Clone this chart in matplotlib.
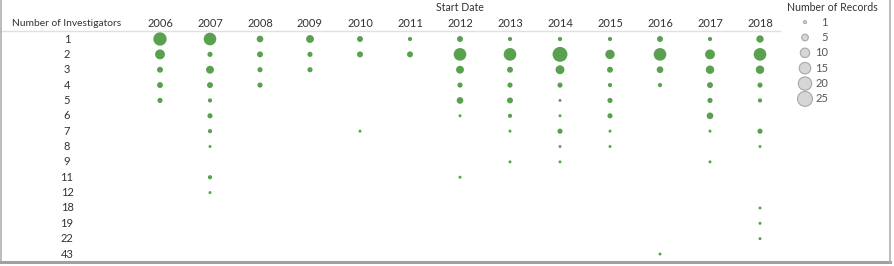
import numpy as np
import matplotlib.pyplot as plt

plt.rcParams['font.family'] = ['Lato', 'DejaVu Sans']

years = ['2006', '2007', '2008', '2009', '2010', '2011', '2012',
         '2013', '2014', '2015', '2016', '2017', '2018']
investigators = ['1', '2', '3', '4', '5', '6', '7', '8', '9',
                 '11', '12', '18', '19', '22', '43']

# number of records per (investigators, year); 0 = no mark
records = np.array([
    [20, 18, 5, 7, 4, 2, 4, 2, 2, 2, 4, 2, 6],     # 1
    [11, 3, 4, 3, 4, 4, 18, 18, 25, 10, 18, 11, 18],  # 2
    [4, 7, 3, 3, 0, 0, 7, 4, 9, 4, 5, 8, 8],       # 3
    [4, 4, 3, 0, 0, 0, 3, 3, 3, 2, 2, 4, 3],       # 4
    [3, 2, 0, 0, 0, 0, 5, 4, 1, 3, 0, 3, 2],       # 5
    [0, 3, 0, 0, 0, 0, 1, 2, 1, 3, 0, 5, 0],       # 6
    [0, 2, 0, 0, 1, 0, 0, 1, 3, 1, 0, 1, 3],       # 7
    [0, 1, 0, 0, 0, 0, 0, 0, 1, 1, 0, 0, 1],       # 8
    [0, 0, 0, 0, 0, 0, 0, 1, 1, 0, 0, 1, 0],       # 9
    [0, 2, 0, 0, 0, 0, 1, 0, 0, 0, 0, 0, 0],       # 11
    [0, 1, 0, 0, 0, 0, 0, 0, 0, 0, 0, 0, 0],       # 12
    [0, 0, 0, 0, 0, 0, 0, 0, 0, 0, 0, 0, 1],       # 18
    [0, 0, 0, 0, 0, 0, 0, 0, 0, 0, 0, 0, 1],       # 19
    [0, 0, 0, 0, 0, 0, 0, 0, 0, 0, 0, 0, 1],       # 22
    [0, 0, 0, 0, 0, 0, 0, 0, 0, 0, 1, 0, 0],       # 43
])

legend_vals = [1, 5, 10, 15, 20, 25]

SIZE = 4.6  # points^2 per record
txt = '#333333'

fig = plt.figure(figsize=(8.94, 2.66), dpi=100)
ax = fig.add_axes([0, 0, 1, 1])
ax.set_xlim(-3.2, 14.68)
ax.set_ylim(14.78, -2.54)
ax.axis('off')

jj, ii = np.nonzero(records)
ax.scatter(ii, jj, s=records[jj, ii] * SIZE, color='#59a14f',
           edgecolors='none', zorder=3)

# headers
for i, y in enumerate(years):
    ax.text(i, -1.04, y, ha='center', va='center', fontsize=8, color=txt)
for j, n in enumerate(investigators):
    ax.text(-1.86, j, n, ha='center', va='center', fontsize=8, color=txt)
ax.text(-1.86, -1.04, 'Number of Investigators', ha='center', va='center',
        fontsize=7.4, color=txt)
ax.text(6, -2.02, 'Start Date', ha='center', va='center', fontsize=7.6, color=txt)
ax.plot([-3.2, 12.4], [-0.52, -0.52], color='#e0e0e0', lw=1)

# size legend
ax.text(13.44, -2.02, 'Number of Records', ha='center', va='center',
        fontsize=7.6, color=txt)
ly = -1.1 + np.arange(len(legend_vals))
ax.scatter([12.9] * len(legend_vals), ly, s=np.array(legend_vals) * SIZE,
           facecolor='#d6d6d6', edgecolors='#a8a8a8', linewidths=0.8, zorder=3)
for v, y in zip(legend_vals, ly):
    ax.text(13.36, y, str(v), ha='right', va='center', fontsize=8, color='#555555')

# frame lines
fig.add_artist(plt.Line2D([0.0015, 0.0015], [0.015, 1], color='#b0b0b0', lw=1.2))
fig.add_artist(plt.Line2D([0.0015, 0.996], [0.015, 0.015], color='#a0a0a0', lw=2.2))
fig.add_artist(plt.Line2D([0.996, 0.996], [0.015, 1], color='#b0b0b0', lw=1.2))

fig.savefig('out.png', dpi=100)
